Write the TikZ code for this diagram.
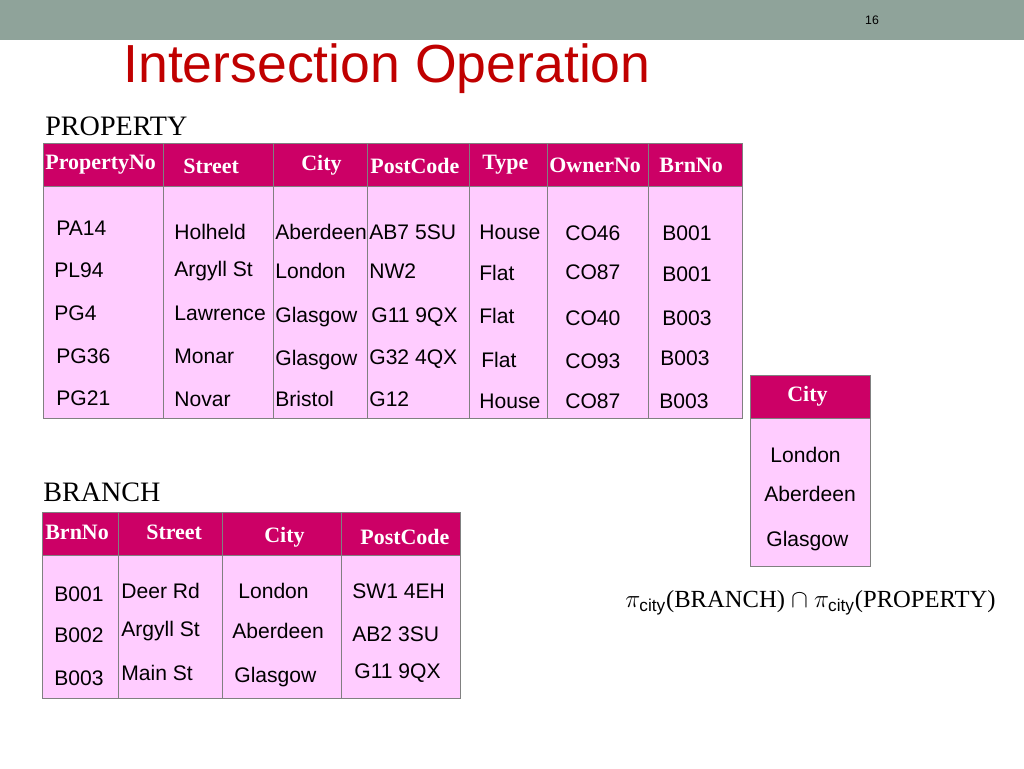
\documentclass[tikz,border=0pt]{standalone}
\usepackage{fontspec}
\setmainfont{Liberation Sans}
\newfontfamily\serif{Liberation Serif}
\usepackage{xcolor}
\definecolor{barGray}{HTML}{8FA39A}
\definecolor{titleRed}{HTML}{C00000}
\definecolor{headMagenta}{HTML}{CC0066}
\definecolor{cellPink}{HTML}{FFCCFF}
\definecolor{gridGray}{HTML}{808080}
\tikzset{
    % cell styles
    headRow/.style = {fill=headMagenta, draw=gridGray},
    bodyRow/.style = {fill=cellPink, draw=gridGray},
    % text styles
    headText/.style = {font=\serif\bfseries\fontsize{12.5}{14}\selectfont, text=white, anchor=west, inner sep=0pt},
    cellText/.style = {font=\fontsize{12}{14}\selectfont, anchor=west, inner sep=0pt},
    tableName/.style = {font=\serif\fontsize{16}{18}\selectfont, anchor=west, inner sep=0pt}
}
\begin{document}
\begin{tikzpicture}[x=0.02cm, y=-0.02cm]
    \useasboundingbox (0,0) rectangle (1024,768);
    % slide bar and title
    \fill[barGray] (0,0) rectangle (1024,40);
    \node[font=\fontsize{7}{8}\selectfont] (pageNo) at (872,20) {16};
    \node[font=\fontsize{30.5}{34}\selectfont, text=titleRed, anchor=west, inner sep=0pt] (title) at (123,69) {Intersection Operation};
    % PROPERTY table
    \node[tableName] (propLabel) at (45,126) {PROPERTY};
    \draw[headRow] (43,143) rectangle (742,186);
    \draw[bodyRow] (43,186) rectangle (742,418);
    \foreach \x in {163,273,367,469,547,648} {
        \draw[gridGray] (\x,143) -- (\x,418);
    }
    \foreach \x/\y/\t [count=\i] in {45/165/PropertyNo, 183/166/Street, 301/165/City, 370/166/PostCode, 482/165/Type, 549/165/OwnerNo, 659/165/BrnNo} {
        \node[headText] (propHead\i) at (\x,\y) {\t};
    }
    \foreach \x/\y/\t [count=\i] in {
        56/228/PA14, 174/232/Holheld, 275/232/Aberdeen, 369/232/AB7 5SU, 479/232/House, 565/233/CO46, 662/233/B001,
        54/270/PL94, 174/271/Argyll St, 275/271/London, 369/271/NW2, 479/273/Flat, 565/272/CO87, 662/274/B001,
        54/313/PG4, 174/313/Lawrence, 275/317/Glasgow, 371/317/G11 9QX, 479/316/Flat, 565/318/CO40, 662/318/B003,
        56/356/PG36, 174/356/Monar, 275/360/Glasgow, 369/359/G32 4QX, 481/360/Flat, 565/361/CO93, 660/358/B003,
        56/398/PG21, 174/399/Novar, 275/399/Bristol, 369/399/G12, 479/401/House, 565/401/CO87, 659/401/B003} {
        \node[cellText] (propCell\i) at (\x,\y) {\t};
    }
    % BRANCH table
    \node[tableName] (branchLabel) at (43,492) {BRANCH};
    \draw[headRow] (42,512) rectangle (460,555);
    \draw[bodyRow] (42,555) rectangle (460,698);
    \foreach \x in {118,222,341} {
        \draw[gridGray] (\x,512) -- (\x,698);
    }
    \foreach \x/\y/\t [count=\i] in {45/532/BrnNo, 146/532/Street, 264/537/City, 360/537/PostCode} {
        \node[headText] (branchHead\i) at (\x,\y) {\t};
    }
    \foreach \x/\y/\t [count=\i] in {
        54/594/B001, 121/591/Deer Rd, 238/591/London, 352/591/SW1 4EH,
        54/635/B002, 121/631/Argyll St, 232/631/Aberdeen, 352/634/AB2 3SU,
        54/678/B003, 121/673/Main St, 234/677/Glasgow, 354/673/G11 9QX} {
        \node[cellText] (branchCell\i) at (\x,\y) {\t};
    }
    % result table
    \draw[headRow] (750,375) rectangle (870,418);
    \draw[bodyRow] (750,418) rectangle (870,566);
    \node[headText] (resHead) at (787,396) {City};
    \foreach \x/\y/\t [count=\i] in {770/455/London, 764/494/Aberdeen, 766/541/Glasgow} {
        \node[cellText] (resCell\i) at (\x,\y) {\t};
    }
    % expression
    \node[font=\serif\fontsize{14}{16}\selectfont, anchor=west, inner sep=0pt] (expr) at (625,603)
        {$\pi_{\mathrm{city}}$(BRANCH) $\cap$ $\pi_{\mathrm{city}}$(PROPERTY)};
\end{tikzpicture}
\end{document}
